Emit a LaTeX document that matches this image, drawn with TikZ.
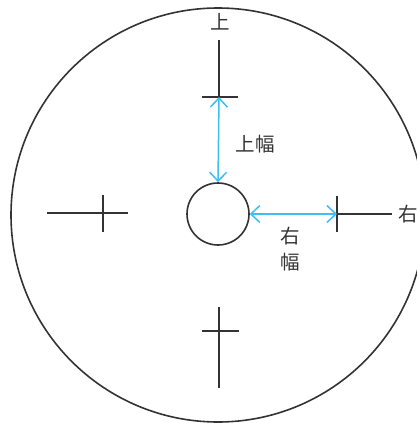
\documentclass[tikz,border=0pt]{standalone}
\usepackage{fontspec}
\newfontfamily\jpfont{Noto Sans CJK JP}
\usepackage{tikz}
\usetikzlibrary{arrows.meta}
\definecolor{dimBlue}{HTML}{3DBEF5}
\definecolor{markGray}{HTML}{333333}

\begin{document}
\begin{tikzpicture}[x=1pt,y=-1pt,font=\jpfont\fontsize{19.5}{26}\selectfont,
  markline/.style={markGray,line width=1.6pt},
  dimline/.style={dimBlue,line width=1.5pt,{Straight Barb[length=9pt,width=17pt]}-{Straight Barb[length=9pt,width=17pt]}}]
\useasboundingbox (0,0) rectangle (417,423);
\clip (0,0) rectangle (417,423);
\draw[markline] (218,215) circle (207);
\node[draw,markline,circle,minimum size=62pt,inner sep=0pt] (hole) at (218,214) {};
% top mark
\node[markGray] (upLab) at (220,22) {上};
\coordinate (topEnd) at (219,40);
\coordinate (topTick) at (219,97);
\draw[markline] (topEnd) -- (topTick);
\draw[markline] (202,97) -- (238,97);
\draw[dimline] (topTick) -- (hole.north);
\node[markGray] (upWidth) at (255,144) {上幅};
% right mark
\node[markGray] (rightLab) at (408,214) {右};
\coordinate (rightEnd) at (392,214);
\coordinate (rightTick) at (337,214);
\draw[markline] (rightTick) -- (rightEnd);
\draw[markline] (337,196) -- (337,232);
\draw[dimline] (hole.east) -- (rightTick);
\node[markGray,align=center] (rightWidth) at (290,249) {右\\幅};
% left and bottom crosses
\draw[markline] (47,213) -- (128,213);
\draw[markline] (103,195) -- (103,232);
\draw[markline] (219,307) -- (219,388);
\draw[markline] (202,331) -- (239,331);
\end{tikzpicture}
\end{document}
